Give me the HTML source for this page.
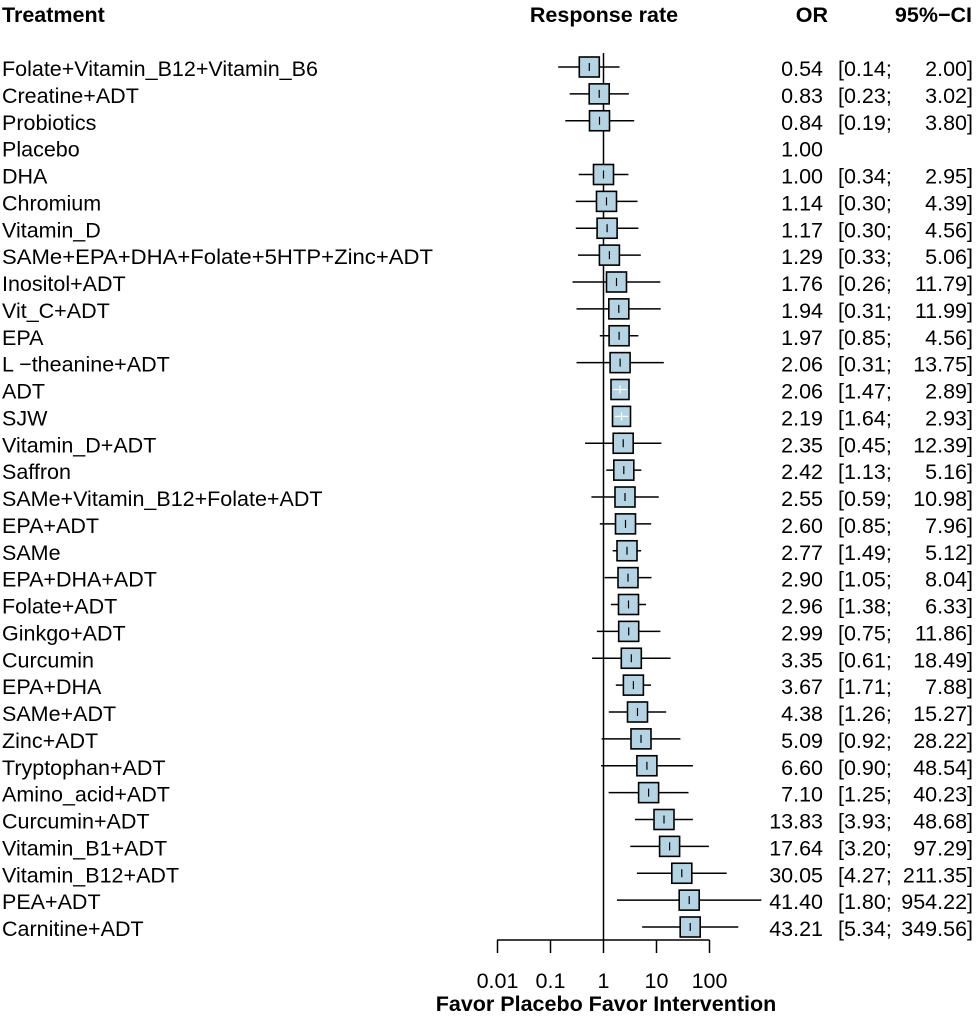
<!DOCTYPE html>
<html><head><meta charset="utf-8"><style>
html,body{margin:0;padding:0;background:#fff;}
svg{display:block;font-family:"Liberation Sans",Arial,sans-serif;}
.t{font-size:21.5px;fill:#000;transform:translateY(2.5px);}
.b{font-size:21.5px;font-weight:bold;fill:#000;}
.r{text-anchor:end;}
.ci{stroke:#000;stroke-width:1.5;}
.bx{fill:#b5d4e3;stroke:#000;stroke-width:1.6;}
.tk{stroke:#000;stroke-width:1.2;}
.tw{stroke:#fff;stroke-width:1.2;}
</style></head><body>
<svg width="976" height="1024" viewBox="0 0 976 1024">
<text class="b" x="2" y="22">Treatment</text>
<text class="b" x="604" y="22" text-anchor="middle">Response rate</text>
<text class="b r" x="828" y="22">OR</text>
<text class="b r" x="972" y="22">95%−CI</text>
<line x1="603.5" y1="53" x2="603.5" y2="940" stroke="#000" stroke-width="1.5"/>
<g transform="translate(0,67)">
<g transform="translate(0,0)"><text class="t" x="2" y="6.5">Folate+Vitamin_B12+Vitamin_B6</text><line class="ci" x1="558.2" y1="0" x2="619.5" y2="0"/><rect class="bx" x="579.3" y="-10" width="20" height="20"/><line class="tk" x1="589.3" y1="-4" x2="589.3" y2="4"/><text class="t r" x="823" y="6.5">0.54</text><text class="t" x="838" y="6.5">[0.14;</text><text class="t r" x="973" y="6.5">2.00]</text></g>
<g transform="translate(0,26.875)"><text class="t" x="2" y="6.5">Creatine+ADT</text><line class="ci" x1="569.7" y1="0" x2="628.9" y2="0"/><rect class="bx" x="589.2" y="-10" width="20" height="20"/><line class="tk" x1="599.2" y1="-4" x2="599.2" y2="4"/><text class="t r" x="823" y="6.5">0.83</text><text class="t" x="838" y="6.5">[0.23;</text><text class="t r" x="973" y="6.5">3.02]</text></g>
<g transform="translate(0,53.75)"><text class="t" x="2" y="6.5">Probiotics</text><line class="ci" x1="565.3" y1="0" x2="634.2" y2="0"/><rect class="bx" x="589.5" y="-10" width="20" height="20"/><line class="tk" x1="599.5" y1="-4" x2="599.5" y2="4"/><text class="t r" x="823" y="6.5">0.84</text><text class="t" x="838" y="6.5">[0.19;</text><text class="t r" x="973" y="6.5">3.80]</text></g>
<g transform="translate(0,80.625)"><text class="t" x="2" y="6.5">Placebo</text><text class="t r" x="823" y="6.5">1.00</text></g>
<g transform="translate(0,107.5)"><text class="t" x="2" y="6.5">DHA</text><line class="ci" x1="578.7" y1="0" x2="628.4" y2="0"/><rect class="bx" x="593.5" y="-10" width="20" height="20"/><line class="tk" x1="603.5" y1="-4" x2="603.5" y2="4"/><text class="t r" x="823" y="6.5">1.00</text><text class="t" x="838" y="6.5">[0.34;</text><text class="t r" x="973" y="6.5">2.95]</text></g>
<g transform="translate(0,134.375)"><text class="t" x="2" y="6.5">Chromium</text><line class="ci" x1="575.8" y1="0" x2="637.5" y2="0"/><rect class="bx" x="596.5" y="-10" width="20" height="20"/><line class="tk" x1="606.5" y1="-4" x2="606.5" y2="4"/><text class="t r" x="823" y="6.5">1.14</text><text class="t" x="838" y="6.5">[0.30;</text><text class="t r" x="973" y="6.5">4.39]</text></g>
<g transform="translate(0,161.25)"><text class="t" x="2" y="6.5">Vitamin_D</text><line class="ci" x1="575.8" y1="0" x2="638.4" y2="0"/><rect class="bx" x="597.1" y="-10" width="20" height="20"/><line class="tk" x1="607.1" y1="-4" x2="607.1" y2="4"/><text class="t r" x="823" y="6.5">1.17</text><text class="t" x="838" y="6.5">[0.30;</text><text class="t r" x="973" y="6.5">4.56]</text></g>
<g transform="translate(0,188.125)"><text class="t" x="2" y="6.5" textLength="431" lengthAdjust="spacingAndGlyphs">SAMe+EPA+DHA+Folate+5HTP+Zinc+ADT</text><line class="ci" x1="578" y1="0" x2="640.8" y2="0"/><rect class="bx" x="599.4" y="-10" width="20" height="20"/><line class="tk" x1="609.4" y1="-4" x2="609.4" y2="4"/><text class="t r" x="823" y="6.5">1.29</text><text class="t" x="838" y="6.5">[0.33;</text><text class="t r" x="973" y="6.5">5.06]</text></g>
<g transform="translate(0,215)"><text class="t" x="2" y="6.5">Inositol+ADT</text><line class="ci" x1="572.5" y1="0" x2="660.3" y2="0"/><rect class="bx" x="606.5" y="-10" width="20" height="20"/><line class="tk" x1="616.5" y1="-4" x2="616.5" y2="4"/><text class="t r" x="823" y="6.5">1.76</text><text class="t" x="838" y="6.5">[0.26;</text><text class="t r" x="973" y="6.5">11.79]</text></g>
<g transform="translate(0,241.875)"><text class="t" x="2" y="6.5">Vit_C+ADT</text><line class="ci" x1="576.5" y1="0" x2="660.7" y2="0"/><rect class="bx" x="608.8" y="-10" width="20" height="20"/><line class="tk" x1="618.8" y1="-4" x2="618.8" y2="4"/><text class="t r" x="823" y="6.5">1.94</text><text class="t" x="838" y="6.5">[0.31;</text><text class="t r" x="973" y="6.5">11.99]</text></g>
<g transform="translate(0,268.75)"><text class="t" x="2" y="6.5">EPA</text><line class="ci" x1="599.8" y1="0" x2="638.4" y2="0"/><rect class="bx" x="609.1" y="-10" width="20" height="20"/><line class="tk" x1="619.1" y1="-4" x2="619.1" y2="4"/><text class="t r" x="823" y="6.5">1.97</text><text class="t" x="838" y="6.5">[0.85;</text><text class="t r" x="973" y="6.5">4.56]</text></g>
<g transform="translate(0,295.625)"><text class="t" x="2" y="6.5">L −theanine+ADT</text><line class="ci" x1="576.5" y1="0" x2="663.8" y2="0"/><rect class="bx" x="610.1" y="-10" width="20" height="20"/><line class="tk" x1="620.1" y1="-4" x2="620.1" y2="4"/><text class="t r" x="823" y="6.5">2.06</text><text class="t" x="838" y="6.5">[0.31;</text><text class="t r" x="973" y="6.5">13.75]</text></g>
<g transform="translate(0,322.5)"><text class="t" x="2" y="6.5">ADT</text><line class="ci" x1="612.4" y1="0" x2="627.9" y2="0"/><rect class="bx" x="611" y="-10" width="18" height="20"/><line class="tw" x1="620.1" y1="-4" x2="620.1" y2="4"/><line class="tw" x1="613" y1="0" x2="627" y2="0"/><text class="t r" x="823" y="6.5">2.06</text><text class="t" x="838" y="6.5">[1.47;</text><text class="t r" x="973" y="6.5">2.89]</text></g>
<g transform="translate(0,349.375)"><text class="t" x="2" y="6.5">SJW</text><rect class="bx" x="612.5" y="-10" width="18" height="20"/><line class="tw" x1="621.5" y1="-4" x2="621.5" y2="4"/><line class="tw" x1="614.9" y1="0" x2="628.2" y2="0"/><text class="t r" x="823" y="6.5">2.19</text><text class="t" x="838" y="6.5">[1.64;</text><text class="t r" x="973" y="6.5">2.93]</text></g>
<g transform="translate(0,376.25)"><text class="t" x="2" y="6.5">Vitamin_D+ADT</text><line class="ci" x1="585.1" y1="0" x2="661.4" y2="0"/><rect class="bx" x="613.2" y="-10" width="20" height="20"/><line class="tk" x1="623.2" y1="-4" x2="623.2" y2="4"/><text class="t r" x="823" y="6.5">2.35</text><text class="t" x="838" y="6.5">[0.45;</text><text class="t r" x="973" y="6.5">12.39]</text></g>
<g transform="translate(0,403.125)"><text class="t" x="2" y="6.5">Saffron</text><line class="ci" x1="606.3" y1="0" x2="641.3" y2="0"/><rect class="bx" x="613.8" y="-10" width="20" height="20"/><line class="tk" x1="623.8" y1="-4" x2="623.8" y2="4"/><text class="t r" x="823" y="6.5">2.42</text><text class="t" x="838" y="6.5">[1.13;</text><text class="t r" x="973" y="6.5">5.16]</text></g>
<g transform="translate(0,430)"><text class="t" x="2" y="6.5">SAMe+Vitamin_B12+Folate+ADT</text><line class="ci" x1="591.4" y1="0" x2="658.7" y2="0"/><rect class="bx" x="615" y="-10" width="20" height="20"/><line class="tk" x1="625" y1="-4" x2="625" y2="4"/><text class="t r" x="823" y="6.5">2.55</text><text class="t" x="838" y="6.5">[0.59;</text><text class="t r" x="973" y="6.5">10.98]</text></g>
<g transform="translate(0,456.875)"><text class="t" x="2" y="6.5">EPA+ADT</text><line class="ci" x1="599.8" y1="0" x2="651.2" y2="0"/><rect class="bx" x="615.5" y="-10" width="20" height="20"/><line class="tk" x1="625.5" y1="-4" x2="625.5" y2="4"/><text class="t r" x="823" y="6.5">2.60</text><text class="t" x="838" y="6.5">[0.85;</text><text class="t r" x="973" y="6.5">7.96]</text></g>
<g transform="translate(0,483.75)"><text class="t" x="2" y="6.5">SAMe</text><line class="ci" x1="612.7" y1="0" x2="641.1" y2="0"/><rect class="bx" x="617" y="-10" width="20" height="20"/><line class="tk" x1="627" y1="-4" x2="627" y2="4"/><text class="t r" x="823" y="6.5">2.77</text><text class="t" x="838" y="6.5">[1.49;</text><text class="t r" x="973" y="6.5">5.12]</text></g>
<g transform="translate(0,510.625)"><text class="t" x="2" y="6.5">EPA+DHA+ADT</text><line class="ci" x1="604.6" y1="0" x2="651.5" y2="0"/><rect class="bx" x="618" y="-10" width="20" height="20"/><line class="tk" x1="628" y1="-4" x2="628" y2="4"/><text class="t r" x="823" y="6.5">2.90</text><text class="t" x="838" y="6.5">[1.05;</text><text class="t r" x="973" y="6.5">8.04]</text></g>
<g transform="translate(0,537.5)"><text class="t" x="2" y="6.5">Folate+ADT</text><line class="ci" x1="610.9" y1="0" x2="646" y2="0"/><rect class="bx" x="618.5" y="-10" width="20" height="20"/><line class="tk" x1="628.5" y1="-4" x2="628.5" y2="4"/><text class="t r" x="823" y="6.5">2.96</text><text class="t" x="838" y="6.5">[1.38;</text><text class="t r" x="973" y="6.5">6.33]</text></g>
<g transform="translate(0,564.375)"><text class="t" x="2" y="6.5">Ginkgo+ADT</text><line class="ci" x1="596.9" y1="0" x2="660.4" y2="0"/><rect class="bx" x="618.7" y="-10" width="20" height="20"/><line class="tk" x1="628.7" y1="-4" x2="628.7" y2="4"/><text class="t r" x="823" y="6.5">2.99</text><text class="t" x="838" y="6.5">[0.75;</text><text class="t r" x="973" y="6.5">11.86]</text></g>
<g transform="translate(0,591.25)"><text class="t" x="2" y="6.5">Curcumin</text><line class="ci" x1="592.1" y1="0" x2="670.6" y2="0"/><rect class="bx" x="621.3" y="-10" width="20" height="20"/><line class="tk" x1="631.3" y1="-4" x2="631.3" y2="4"/><text class="t r" x="823" y="6.5">3.35</text><text class="t" x="838" y="6.5">[0.61;</text><text class="t r" x="973" y="6.5">18.49]</text></g>
<g transform="translate(0,618.125)"><text class="t" x="2" y="6.5">EPA+DHA</text><line class="ci" x1="615.8" y1="0" x2="651" y2="0"/><rect class="bx" x="623.4" y="-10" width="20" height="20"/><line class="tk" x1="633.4" y1="-4" x2="633.4" y2="4"/><text class="t r" x="823" y="6.5">3.67</text><text class="t" x="838" y="6.5">[1.71;</text><text class="t r" x="973" y="6.5">7.88]</text></g>
<g transform="translate(0,645)"><text class="t" x="2" y="6.5">SAMe+ADT</text><line class="ci" x1="608.8" y1="0" x2="666.2" y2="0"/><rect class="bx" x="627.5" y="-10" width="20" height="20"/><line class="tk" x1="637.5" y1="-4" x2="637.5" y2="4"/><text class="t r" x="823" y="6.5">4.38</text><text class="t" x="838" y="6.5">[1.26;</text><text class="t r" x="973" y="6.5">15.27]</text></g>
<g transform="translate(0,671.875)"><text class="t" x="2" y="6.5">Zinc+ADT</text><line class="ci" x1="601.6" y1="0" x2="680.4" y2="0"/><rect class="bx" x="631" y="-10" width="20" height="20"/><line class="tk" x1="641" y1="-4" x2="641" y2="4"/><text class="t r" x="823" y="6.5">5.09</text><text class="t" x="838" y="6.5">[0.92;</text><text class="t r" x="973" y="6.5">28.22]</text></g>
<g transform="translate(0,698.75)"><text class="t" x="2" y="6.5">Tryptophan+ADT</text><line class="ci" x1="601.1" y1="0" x2="692.9" y2="0"/><rect class="bx" x="636.9" y="-10" width="20" height="20"/><line class="tk" x1="646.9" y1="-4" x2="646.9" y2="4"/><text class="t r" x="823" y="6.5">6.60</text><text class="t" x="838" y="6.5">[0.90;</text><text class="t r" x="973" y="6.5">48.54]</text></g>
<g transform="translate(0,725.625)"><text class="t" x="2" y="6.5">Amino_acid+ADT</text><line class="ci" x1="608.6" y1="0" x2="688.5" y2="0"/><rect class="bx" x="638.6" y="-10" width="20" height="20"/><line class="tk" x1="648.6" y1="-4" x2="648.6" y2="4"/><text class="t r" x="823" y="6.5">7.10</text><text class="t" x="838" y="6.5">[1.25;</text><text class="t r" x="973" y="6.5">40.23]</text></g>
<g transform="translate(0,752.5)"><text class="t" x="2" y="6.5">Curcumin+ADT</text><line class="ci" x1="635" y1="0" x2="692.9" y2="0"/><rect class="bx" x="654" y="-10" width="20" height="20"/><line class="tk" x1="664" y1="-4" x2="664" y2="4"/><text class="t r" x="823" y="6.5">13.83</text><text class="t" x="838" y="6.5">[3.93;</text><text class="t r" x="973" y="6.5">48.68]</text></g>
<g transform="translate(0,779.375)"><text class="t" x="2" y="6.5">Vitamin_B1+ADT</text><line class="ci" x1="630.3" y1="0" x2="708.9" y2="0"/><rect class="bx" x="659.6" y="-10" width="20" height="20"/><line class="tk" x1="669.6" y1="-4" x2="669.6" y2="4"/><text class="t r" x="823" y="6.5">17.64</text><text class="t" x="838" y="6.5">[3.20;</text><text class="t r" x="973" y="6.5">97.29]</text></g>
<g transform="translate(0,806.25)"><text class="t" x="2" y="6.5">Vitamin_B12+ADT</text><line class="ci" x1="636.9" y1="0" x2="726.7" y2="0"/><rect class="bx" x="671.8" y="-10" width="20" height="20"/><line class="tk" x1="681.8" y1="-4" x2="681.8" y2="4"/><text class="t r" x="823" y="6.5">30.05</text><text class="t" x="838" y="6.5">[4.27;</text><text class="t r" x="973" y="6.5">211.35]</text></g>
<g transform="translate(0,833.125)"><text class="t" x="2" y="6.5">PEA+ADT</text><line class="ci" x1="617" y1="0" x2="761.4" y2="0"/><rect class="bx" x="679.2" y="-10" width="20" height="20"/><line class="tk" x1="689.2" y1="-4" x2="689.2" y2="4"/><text class="t r" x="823" y="6.5">41.40</text><text class="t" x="838" y="6.5">[1.80;</text><text class="t r" x="973" y="6.5">954.22]</text></g>
<g transform="translate(0,860)"><text class="t" x="2" y="6.5">Carnitine+ADT</text><line class="ci" x1="642.1" y1="0" x2="738.3" y2="0"/><rect class="bx" x="680.2" y="-10" width="20" height="20"/><line class="tk" x1="690.2" y1="-4" x2="690.2" y2="4"/><text class="t r" x="823" y="6.5">43.21</text><text class="t" x="838" y="6.5">[5.34;</text><text class="t r" x="973" y="6.5">349.56]</text></g>
</g>
<g stroke="#000" stroke-width="1.5">
<line x1="497" y1="940" x2="709.5" y2="940"/>
<line x1="497.5" y1="940" x2="497.5" y2="953"/>
<line x1="550.5" y1="940" x2="550.5" y2="953"/>
<line x1="603.5" y1="940" x2="603.5" y2="953"/>
<line x1="656.5" y1="940" x2="656.5" y2="953"/>
<line x1="709.5" y1="940" x2="709.5" y2="953"/>
</g>
<g font-size="21.5" text-anchor="middle" fill="#000">
<text x="497.5" y="988">0.01</text>
<text x="550.5" y="988">0.1</text>
<text x="603.5" y="988">1</text>
<text x="656.5" y="988">10</text>
<text x="709.5" y="988">100</text>
</g>
<text class="b" x="606" y="1011" text-anchor="middle">Favor Placebo Favor Intervention</text>
</svg>
</body></html>
